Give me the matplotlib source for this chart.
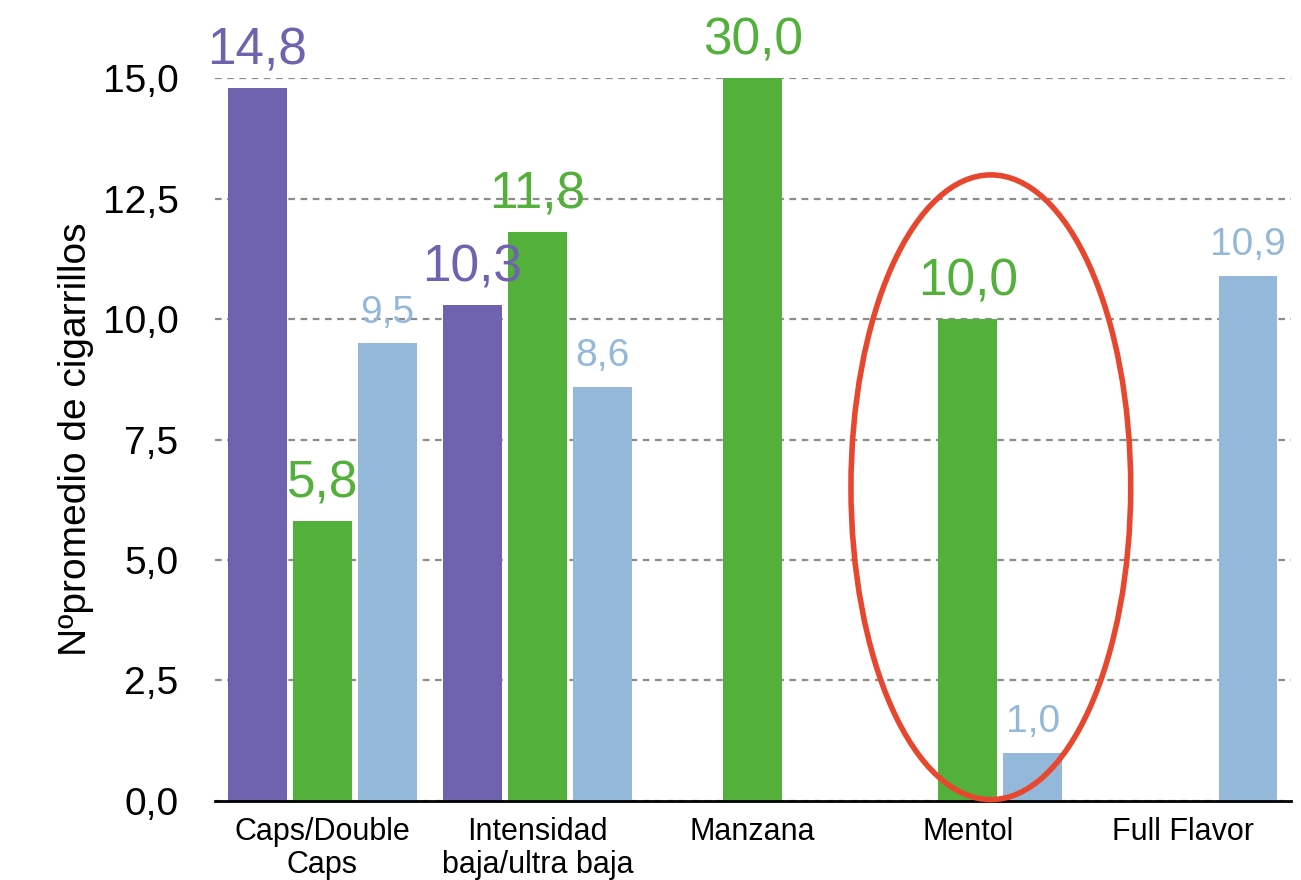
import numpy as np
from matplotlib import pyplot as plt
from matplotlib.patches import Ellipse

plt.rcParams["font.family"] = ["Liberation Sans", "DejaVu Sans"]

CATEGORIES = ["Caps/Double\nCaps", "Intensidad\nbaja/ultra baja", "Manzana", "Mentol", "Full Flavor"]
PURPLE_VALUES = [14.8, 10.3, np.nan, np.nan, np.nan]
GREEN_VALUES = [5.8, 11.8, 30.0, 10.0, np.nan]
BLUE_VALUES = [9.5, 8.6, np.nan, 1.0, 10.9]
Y_TICKS = [0.0, 2.5, 5.0, 7.5, 10.0, 12.5, 15.0]

PURPLE = "#6F62AE"
GREEN = "#53B03B"
BLUE = "#94B8D9"
RED = "#E8472F"

fig = plt.figure(figsize=(13.01, 8.80), dpi=100)
ax = fig.add_axes([0.165, 0.09, 0.827, 0.821])

x = np.arange(len(CATEGORIES))
width = 0.274
offset = 0.302
YMAX = 15.0

series = [
    (PURPLE_VALUES, PURPLE, -offset, 37),
    (GREEN_VALUES, GREEN, 0.0, 37),
    (BLUE_VALUES, BLUE, offset, 28),
]
for vals, color, off, fs in series:
    ax.bar(x + off, vals, width=width, color=color, zorder=3)
    for xi, v in zip(x, vals):
        if np.isnan(v):
            continue
        ax.annotate(
            f"{v:.1f}".replace(".", ","),
            (xi + off, min(v, YMAX)),
            xytext=(0, 9), textcoords="offset points",
            ha="center", va="bottom", color=color, fontsize=fs,
            annotation_clip=False, zorder=6,
        )

ax.set_xlim(-0.5, 4.5)
ax.set_ylim(0, YMAX)
ax.set_yticks(Y_TICKS)
ax.set_yticklabels([f"{t:.1f}".replace(".", ",") for t in Y_TICKS])
ax.set_xticks(x)
ax.set_xticklabels(CATEGORIES, linespacing=1.1)
ax.tick_params(axis="y", length=0, pad=26, labelsize=28)
ax.tick_params(axis="x", length=0, pad=12, labelsize=22)

ax.yaxis.grid(True, linestyle=(0, (3, 2.5)), color="#8c8c8c", linewidth=1.6, zorder=0)
for s in ["top", "right", "left"]:
    ax.spines[s].set_visible(False)
ax.spines["bottom"].set_linewidth(2)
ax.spines["bottom"].set_zorder(4)

ax.set_ylabel("Nºpromedio de cigarrillos", fontsize=28, labelpad=6)

# red circle around Mentol
ax.add_patch(Ellipse((3.107, 6.51), 1.30, 12.97, fill=False, edgecolor=RED,
                     linewidth=4, zorder=5, clip_on=False))

fig.savefig("out.png", dpi=100)
